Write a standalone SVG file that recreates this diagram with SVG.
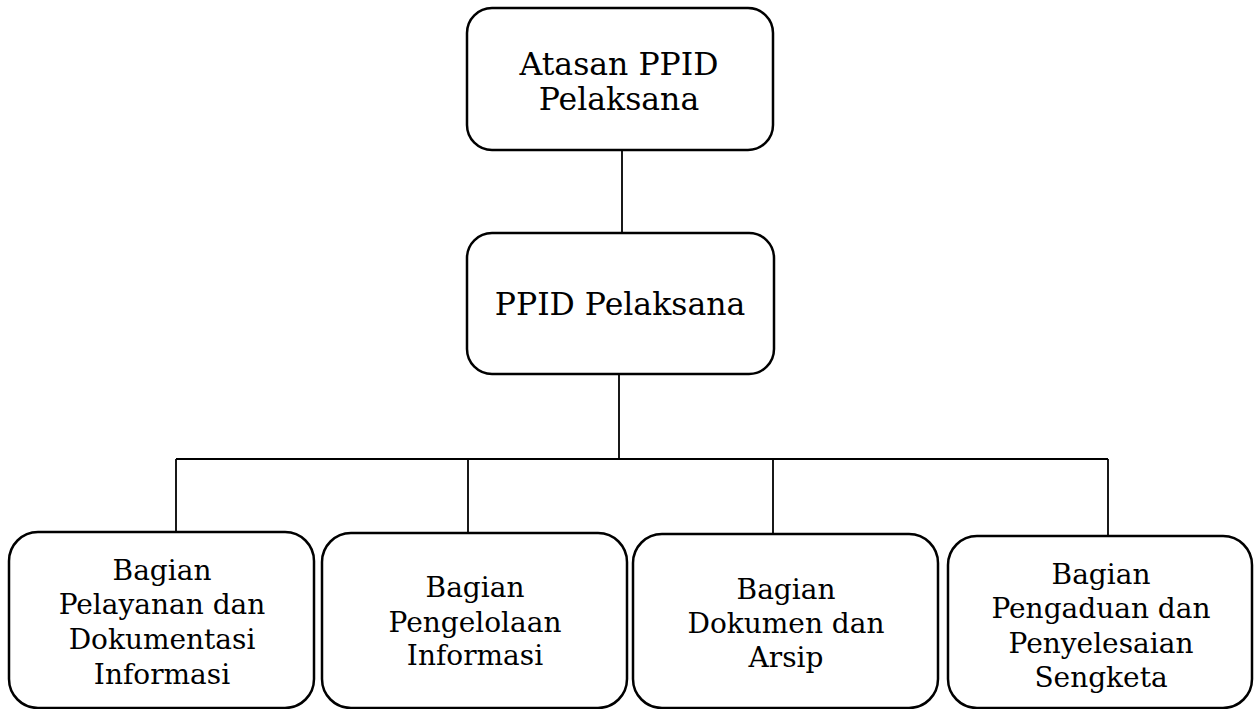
<svg xmlns="http://www.w3.org/2000/svg" width="1256" height="709" viewBox="0 0 1256 709">
<style>
.box{fill:#fff;stroke:#000;stroke-width:2.5}
.conn{fill:none;stroke:#000;stroke-width:1.8}
.t{font-family:"DejaVu Serif","Liberation Serif",serif;fill:#000;text-anchor:middle}
.big{font-size:31.5px}
.sm{font-size:28px}
</style>
<rect x="0" y="0" width="1256" height="709" fill="#fff"/>
<g id="connectors">
<line class="conn" x1="622" y1="150" x2="622" y2="233"/>
<line class="conn" x1="619" y1="374" x2="619" y2="459"/>
<line class="conn" x1="176" y1="459" x2="1108" y2="459"/>
<line class="conn" x1="176" y1="459" x2="176" y2="532"/>
<line class="conn" x1="468" y1="459" x2="468" y2="533"/>
<line class="conn" x1="773" y1="459" x2="773" y2="534"/>
<line class="conn" x1="1108" y1="459" x2="1108" y2="536"/>
</g>
<g id="atasan">
<rect class="box" x="467" y="8" width="306" height="142" rx="25"/>
<text class="t big" x="619" y="75">Atasan PPID</text>
<text class="t big" x="619" y="110">Pelaksana</text>
</g>
<g id="ppid">
<rect class="box" x="467" y="233" width="307" height="141" rx="25"/>
<text class="t big" x="620" y="315">PPID Pelaksana</text>
</g>
<g id="pelayanan">
<rect class="box" x="9" y="532" width="305" height="176" rx="29"/>
<text class="t sm" x="162" y="580">Bagian</text>
<text class="t sm" x="162" y="614">Pelayanan dan</text>
<text class="t sm" x="162" y="649">Dokumentasi</text>
<text class="t sm" x="162" y="684">Informasi</text>
</g>
<g id="pengelolaan">
<rect class="box" x="322" y="533" width="305" height="175" rx="29"/>
<text class="t sm" x="475" y="597">Bagian</text>
<text class="t sm" x="475" y="632">Pengelolaan</text>
<text class="t sm" x="475" y="665">Informasi</text>
</g>
<g id="dokumen">
<rect class="box" x="633" y="534" width="305" height="174" rx="29"/>
<text class="t sm" x="786" y="599">Bagian</text>
<text class="t sm" x="786" y="633">Dokumen dan</text>
<text class="t sm" x="786" y="667">Arsip</text>
</g>
<g id="pengaduan">
<rect class="box" x="948" y="536" width="304" height="172" rx="29"/>
<text class="t sm" x="1101" y="584">Bagian</text>
<text class="t sm" x="1101" y="618">Pengaduan dan</text>
<text class="t sm" x="1101" y="653">Penyelesaian</text>
<text class="t sm" x="1101" y="687">Sengketa</text>
</g>
</svg>
